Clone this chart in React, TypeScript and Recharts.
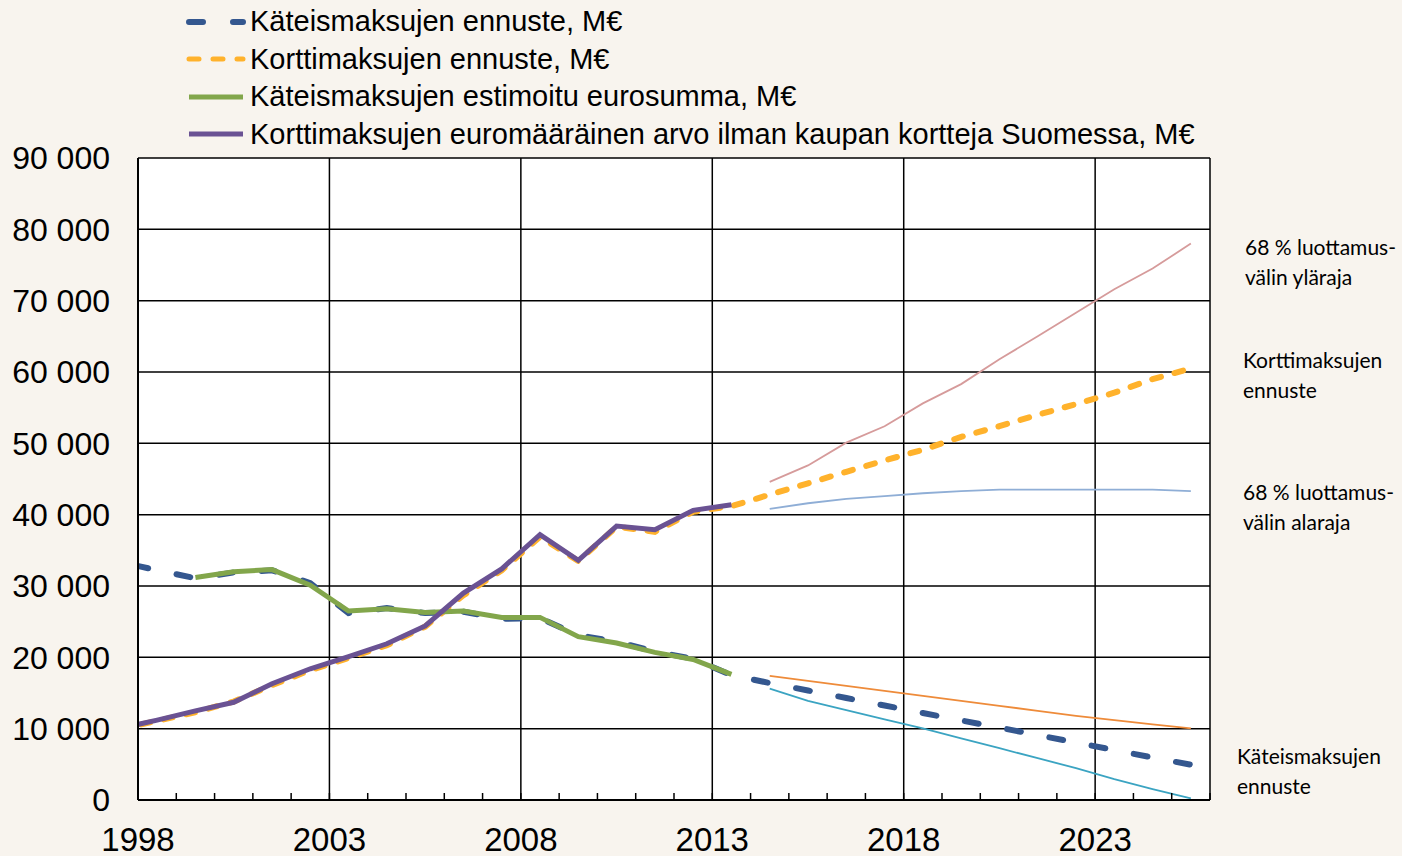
import React from 'react';
import {
  LineChart,
  Line,
  XAxis,
  YAxis,
  CartesianGrid,
  ReferenceLine,
  Legend,
} from 'recharts';

// vuodet (1997 leikkautuu akselin vasempaan reunaan)
const years = [
  1997, 1998, 1999, 2000, 2001, 2002, 2003, 2004, 2005, 2006, 2007, 2008, 2009, 2010, 2011,
  2012, 2013, 2014, 2015, 2016, 2017, 2018, 2019, 2020, 2021, 2022, 2023, 2024, 2025,
];

// M€
const cashForecast = [
  33400, 32200, 31100, 31900, 32200, 30400, 26200, 26900, 26200, 26400, 25400, 25500, 23100,
  22200, 20800, 19800, 17500, 16400, 15350, 14300, 13250, 12200, 11150, 10150, 9100, 8050,
  7000, 5950, 4950,
];
const cardForecast = [
  9900, 11100, 12300, 13800, 16100, 18200, 19900, 21700, 24300, 28700, 32200, 36900, 33500,
  38300, 37600, 40400, 41200, 42800, 44400, 46000, 47600, 49100, 50900, 52400, 54000, 55500,
  57100, 59000, 60500,
];
const cashEstimate = [
  null, null, 31200, 32000, 32300, 30100, 26500, 26800, 26300, 26500, 25600, 25600, 22900,
  22000, 20700, 19700, 17600, null, null, null, null, null, null, null, null, null, null, null,
  null,
];
const cardValue = [
  10000, 11200, 12500, 13700, 16300, 18400, 20100, 21900, 24400, 29000, 32400, 37200, 33600,
  38400, 37900, 40600, 41400, null, null, null, null, null, null, null, null, null, null, null,
  null,
];
const H = null;
const cardUpper = [
  H, H, H, H, H, H, H, H, H, H, H, H, H, H, H, H, H,
  44600, 46900, 50100, 52400, 55600, 58300, 61800, 65000, 68300, 71600, 74500, 78000,
];
const cardLower = [
  H, H, H, H, H, H, H, H, H, H, H, H, H, H, H, H, H,
  40800, 41600, 42200, 42600, 43000, 43300, 43500, 43500, 43500, 43500, 43500, 43300,
];
const cashUpper = [
  H, H, H, H, H, H, H, H, H, H, H, H, H, H, H, H, H,
  17400, 16700, 16000, 15300, 14600, 13900, 13200, 12500, 11800, 11200, 10600, 10050,
];
const cashLower = [
  H, H, H, H, H, H, H, H, H, H, H, H, H, H, H, H, H,
  15600, 13900, 12600, 11300, 10050, 8650, 7260, 5860, 4470, 2930, 1530, 230,
];

const yTicks = [0, 10000, 20000, 30000, 40000, 50000, 60000, 70000, 80000, 90000];
const xTicks = [
  1998, 1999, 2000, 2001, 2002, 2003, 2004, 2005, 2006, 2007, 2008, 2009, 2010, 2011, 2012,
  2013, 2014, 2015, 2016, 2017, 2018, 2019, 2020, 2021, 2022, 2023, 2024, 2025, 2026,
];
const gridYears = [2003, 2008, 2013, 2018, 2023, 2026];

const legendItems = [
  { label: 'Käteismaksujen ennuste, M€', color: '#34578F', dash: '14 30', width: 6 },
  { label: 'Korttimaksujen ennuste, M€', color: '#FFB22C', dash: '10 14', width: 5 },
  { label: 'Käteismaksujen estimoitu eurosumma, M€', color: '#82A64B', dash: '', width: 5 },
  {
    label: 'Korttimaksujen euromääräinen arvo ilman kaupan kortteja Suomessa, M€',
    color: '#6A5293',
    dash: '',
    width: 5,
  },
];

const notes = [
  { lines: ['68 % luottamus-', 'välin yläraja'], left: 1245, top: 232 },
  { lines: ['Korttimaksujen', 'ennuste'], left: 1243, top: 345 },
  { lines: ['68 % luottamus-', 'välin alaraja'], left: 1243, top: 477 },
  { lines: ['Käteismaksujen', 'ennuste'], left: 1237, top: 741 },
];

// kategoria keskelle vuoden väliä
const data = years.map((y, i) => ({
  pos: y + 0.5,
  cashForecast: cashForecast[i],
  cardForecast: cardForecast[i],
  cashEstimate: cashEstimate[i],
  cardValue: cardValue[i],
  cardUpper: cardUpper[i],
  cardLower: cardLower[i],
  cashUpper: cashUpper[i],
  cashLower: cashLower[i],
}));

const FONT = '"Liberation Sans", Arial, sans-serif';

const fmtY = (v: number) => (v === 0 ? '0' : `${Math.round(v / 1000)} 000`);

const YearTick = ({ x, y, payload }: any) => {
  if ((payload.value - 1998) % 5 !== 0 || payload.value > 2025) return null;
  return (
    <text x={x} y={y} textAnchor="middle" fontSize={33} fontFamily={FONT} fill="#000">
      {payload.value}
    </text>
  );
};

const CustomLegend = () => (
  <div style={{ fontFamily: FONT, fontSize: 29, color: '#000' }}>
    {legendItems.map((item) => (
      <div
        key={item.label}
        style={{ display: 'flex', alignItems: 'center', height: 37.5, whiteSpace: 'nowrap' }}
      >
        <svg width={62} height={12} style={{ marginRight: 2 }}>
          <line
            x1={3}
            y1={6}
            x2={57}
            y2={6}
            stroke={item.color}
            strokeWidth={item.width}
            strokeDasharray={item.dash || undefined}
            strokeLinecap={item.dash ? 'round' : 'butt'}
          />
        </svg>
        <span>{item.label}</span>
      </div>
    ))}
  </div>
);

const App = () => {
  return (
    <div
      style={{
        position: 'absolute',
        left: 0,
        top: 0,
        width: 1402,
        height: 856,
        background: '#F8F4EE',
        overflow: 'hidden',
      }}
    >
      <LineChart
        width={1402}
        height={856}
        data={data}
        margin={{ top: 158, right: 192, bottom: 0, left: 0 }}
      >
        <CartesianGrid
          vertical={false}
          stroke="#000"
          strokeWidth={1.5}
          fill="#FFFFFF"
          fillOpacity={1}
        />
        {gridYears.map((g) => (
          <ReferenceLine key={g} x={g} stroke="#000" strokeWidth={1.5} />
        ))}
        <XAxis
          type="number"
          dataKey="pos"
          domain={[1998, 2026]}
          ticks={xTicks}
          allowDataOverflow
          interval={0}
          height={56}
          tickSize={-7}
          tickMargin={58}
          tick={<YearTick />}
          tickLine={{ stroke: '#000', strokeWidth: 1.5 }}
          axisLine={{ stroke: '#000', strokeWidth: 2 }}
        />
        <YAxis
          type="number"
          domain={[0, 90000]}
          ticks={yTicks}
          width={138}
          tickSize={0}
          tickMargin={28}
          tickLine={false}
          tickFormatter={fmtY}
          tick={{ fontSize: 32, fontFamily: FONT, fill: '#000' }}
          axisLine={{ stroke: '#000', strokeWidth: 2 }}
          interval={0}
        />
        <Legend
          layout="horizontal"
          verticalAlign="middle"
          align="center"
          wrapperStyle={{ top: 3, left: 186, width: 1050 }}
          content={<CustomLegend />}
        />

        <Line type="linear" dataKey="cardUpper" stroke="#D69B9B" strokeWidth={1.8} dot={false} activeDot={false} isAnimationActive={false} />
        <Line type="linear" dataKey="cardLower" stroke="#8FAED6" strokeWidth={1.8} dot={false} activeDot={false} isAnimationActive={false} />
        <Line type="linear" dataKey="cashUpper" stroke="#EE8B3A" strokeWidth={1.8} dot={false} activeDot={false} isAnimationActive={false} />
        <Line type="linear" dataKey="cashLower" stroke="#3BA4C2" strokeWidth={1.8} dot={false} activeDot={false} isAnimationActive={false} />

        <Line
          type="linear"
          dataKey="cardForecast"
          stroke="#FFB22C"
          strokeWidth={6}
          strokeDasharray="9 14"
          strokeLinecap="round"
          dot={false}
          activeDot={false}
          isAnimationActive={false}
        />
        <Line
          type="linear"
          dataKey="cashForecast"
          stroke="#34578F"
          strokeWidth={6}
          strokeDasharray="14 29"
          strokeDashoffset={27}
          strokeLinecap="round"
          dot={false}
          activeDot={false}
          isAnimationActive={false}
        />
        <Line type="linear" dataKey="cashEstimate" stroke="#82A64B" strokeWidth={5} dot={false} activeDot={false} isAnimationActive={false} />
        <Line type="linear" dataKey="cardValue" stroke="#6A5293" strokeWidth={5} dot={false} activeDot={false} isAnimationActive={false} />
      </LineChart>

      {notes.map((n) => (
        <div
          key={n.top}
          style={{
            position: 'absolute',
            left: n.left,
            top: n.top,
            fontFamily: 'Lato, "Noto Sans", sans-serif',
            fontSize: 21,
            lineHeight: '30px',
            color: '#000',
            whiteSpace: 'nowrap',
          }}
        >
          {n.lines.map((l) => (
            <div key={l}>{l}</div>
          ))}
        </div>
      ))}
    </div>
  );
};

export default App;
